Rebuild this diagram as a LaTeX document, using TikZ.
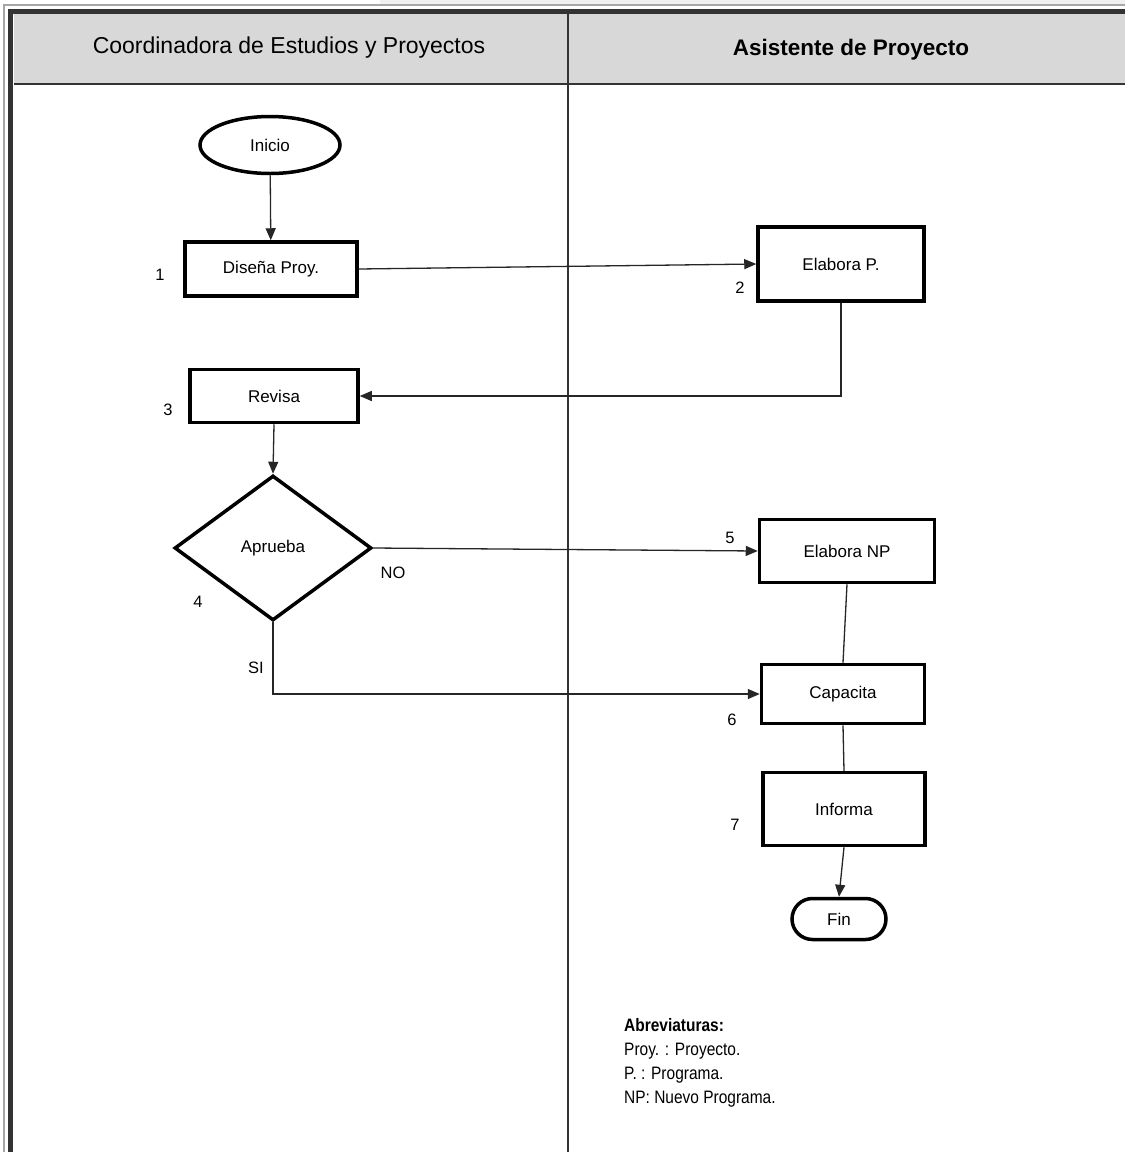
\documentclass[tikz,border=0pt]{standalone}
\usepackage{fontspec}
\setmainfont{Liberation Sans}
\newfontfamily\narrowfont[FakeStretch=0.86]{Liberation Sans}
\usetikzlibrary{arrows.meta,shapes.geometric,shapes.misc}
\definecolor{headgray}{HTML}{D8D8D8}
\begin{document}
\begin{tikzpicture}[x=1pt,y=-1pt,
  proc/.style={draw=black, line width=3.5pt, fill=white, inner sep=0pt, font=\fontsize{17}{19}\selectfont},
  lbl/.style={inner sep=0pt, font=\fontsize{16.5}{18}\selectfont},
  conn/.style={line width=1.3pt, draw=black!85},
  arr/.style={conn, -{Triangle[length=12pt,width=10pt]}},
  lane/.style={line width=1.3pt, draw=black!80}]
\useasboundingbox (0,0) rectangle (1125,1152);
\fill[white] (0,0) rectangle (1125,1152);
\fill[black!6] (380,0) rectangle (1125,4);
\fill[headgray] (14,14) rectangle (1125,84);
\draw[gray!70, line width=2pt] (4,1152) -- (4,5) -- (1125,5);
\draw[black!80, line width=5pt] (10.5,1152) -- (10.5,11) -- (1125,11);
\draw[lane, line width=2pt] (14,84) -- (1125,84);
\draw[lane] (568,14) -- (568,1152);
% headers
\node[font=\fontsize{23}{25}\selectfont] (h1) at (289,48) {Coordinadora de Estudios y Proyectos};
\node[font=\bfseries\fontsize{22.5}{25}\selectfont] (h2) at (851,50) {Asistente de Proyecto};
% nodes
\node[proc, ellipse, minimum width=140, minimum height=57] (ini) at (270,145) {Inicio};
\node[proc, minimum width=172, minimum height=54] (n1) at (271,269) {Diseña Proy.};
\node[proc, minimum width=166, minimum height=74] (n2) at (841,264) {Elabora P.};
\node[proc, minimum width=168, minimum height=53] (n3) at (274,396) {Revisa};
\node[proc, diamond, minimum width=197, minimum height=145] (n4) at (273,548) {Aprueba};
\node[proc, minimum width=175, minimum height=63] (n5) at (847,551) {Elabora NP};
\node[proc, minimum width=163, minimum height=59] (n6) at (843,694) {Capacita};
\node[proc, minimum width=162, minimum height=73] (n7) at (844,809) {Informa};
\node[proc, rounded rectangle, minimum width=94, minimum height=41] (fin) at (839,919) {Fin};
% labels
\node[lbl] (l1) at (160,275) {1};
\node[lbl] (l2) at (740,288) {2};
\node[lbl] (l3) at (168,410) {3};
\node[lbl] (l4) at (198,602) {4};
\node[lbl] (l5) at (730,538) {5};
\node[lbl] (l6) at (732,720) {6};
\node[lbl] (l7) at (735,825) {7};
\node[lbl] (no) at (393,573) {NO};
\node[lbl] (si) at (256,668) {SI};
% connectors
\draw[arr] (ini) -- (n1);
\draw[arr] (n1.east) -- (n2.west);
\draw[arr] (n2.south) |- (n3.east);
\draw[arr] (n3.south) -- (n4.north);
\draw[arr] (n4.east) -- (n5.west);
\draw[arr] (n4.south) |- (n6.west);
\draw[conn] (n5.south) -- (n6.north);
\draw[conn] (n6.south) -- (n7.north);
\draw[arr] (n7.south) -- (fin.north);
% abbreviations
\node[anchor=north west, align=left, inner sep=0pt, font=\narrowfont\fontsize{18}{24}\selectfont] (abr) at (624,1018) {\textbf{Abreviaturas:}\\Proy. : Proyecto.\\P. : Programa.\\NP: Nuevo Programa.};
\end{tikzpicture}
\end{document}
